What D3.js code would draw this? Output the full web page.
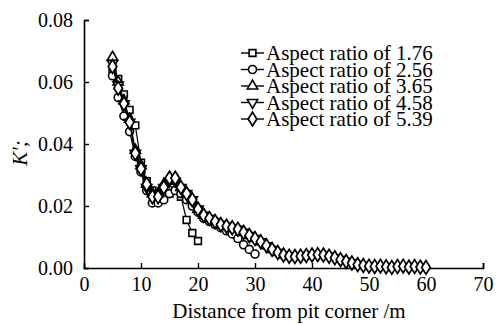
<!DOCTYPE html>
<html><head><meta charset="utf-8">
<script src="https://cdn.jsdelivr.net/npm/d3@7"></script>
<style>body{margin:0;background:#fff}svg{display:block}svg text{font-family:"Liberation Serif","Times New Roman",Times,"DejaVu Serif",serif !important}</style>
</head><body><svg id="c" width="497" height="325"></svg>
<script>
const seriesNames = ["Aspect ratio of 1.76","Aspect ratio of 2.56","Aspect ratio of 3.65","Aspect ratio of 4.58","Aspect ratio of 5.39"];
const symbolsUsed = ["square","circle","triangle","triangleDown","diamond"];
const xTicks = [0,10,20,30,40,50,60,70];
const yTicks = [0,0.02,0.04,0.06,0.08];

const x176 = [5,6,7,8,9,10,11,12,13,14,15,16,17,18,19,20];
const y176 = [0.063,0.061,0.056,0.051,0.046,0.034,0.028,0.025,0.024,0.024,0.024,0.025,0.023,0.0155,0.0113,0.0087];

const x256 = [5,6,7,8,9,10,11,12,13,14,15,16,17,18,19,20,21,22,23,24,25,26,27,28,29,30];
const y256 = [0.062,0.055,0.049,0.044,0.036,0.031,0.025,0.021,0.021,0.022,0.024,0.025,0.024,0.022,0.020,0.018,0.016,0.015,0.014,0.013,0.012,0.011,0.0095,0.0075,0.006,0.0045];

const x365 = [5,6,7,8,9,10,11,12,13,14,15,16,17,18,19,20,21,22,23,24,25,26,27,28,29,30,31,32,33,34,35,36,37,38,39,40];
const y365 = [0.068,0.060,0.054,0.048,0.038,0.033,0.027,0.024,0.024,0.027,0.029,0.028,0.026,0.024,0.022,0.019,0.017,0.016,0.015,0.014,0.0135,0.013,0.0125,0.0115,0.0105,0.0095,0.0085,0.0072,0.006,0.005,0.0042,0.0038,0.0037,0.0038,0.004,0.0042];

const x458 = [5,6,7,8,9,10,11,12,13,14,15,16,17,18,19,20,21,22,23,24,25,26,27,28,29,30,31,32,33,34,35,36,37,38,39,40,41,42,43,44,45,46,47,48,49,50];
const y458 = [0.066,0.059,0.053,0.047,0.037,0.032,0.026,0.023,0.023,0.026,0.028,0.028,0.026,0.024,0.022,0.019,0.017,0.016,0.015,0.014,0.0135,0.013,0.0125,0.0115,0.0105,0.0095,0.0085,0.0072,0.006,0.005,0.0042,0.0038,0.0037,0.0038,0.004,0.0042,0.0043,0.0042,0.0038,0.0033,0.0027,0.0021,0.0016,0.0011,0.0008,0.0006];

const x539 = [5,6,7,8,9,10,11,12,13,14,15,16,17,18,19,20,21,22,23,24,25,26,27,28,29,30,31,32,33,34,35,36,37,38,39,40,41,42,43,44,45,46,47,48,49,50,51,52,53,54,55,56,57,58,59,60];
const y539 = [0.065,0.058,0.053,0.047,0.037,0.032,0.027,0.023,0.023,0.026,0.029,0.029,0.026,0.024,0.022,0.019,0.017,0.016,0.015,0.014,0.0135,0.013,0.0125,0.0115,0.0105,0.0095,0.0085,0.0072,0.006,0.005,0.0042,0.0038,0.0037,0.0038,0.004,0.0042,0.0043,0.0042,0.0038,0.0033,0.0027,0.0021,0.0016,0.0011,0.0008,0.0006,0.0005,0.0006,0.0004,0.0002,0.0005,0.0006,0.0003,0.0005,0.0003,0.0002];

const seriesX = [x176,x256,x365,x458,x539];
const seriesY = [y176,y256,y365,y458,y539];

const svg = d3.select("#c");
const FONT = '"Liberation Serif","Times New Roman",Times,"DejaVu Serif",serif';
const m = {l:84, r:483, t:20, b:268};
const x = d3.scaleLinear().domain([0,70]).range([m.l,m.r]);
const y = d3.scaleLinear().domain([0,0.08]).range([m.b,m.t]);

const symMap = {square:d3.symbolSquare,circle:d3.symbolCircle,triangle:d3.symbolTriangle,triangleDown:d3.symbolTriangle,diamond:d3.symbolDiamond};
const sizes = {square:46,circle:50,triangle:46,triangleDown:46,diamond:54};
function marker(g, s, cx, cy){
  const p = d3.symbol().type(symMap[s]).size(sizes[s]);
  g.append("path").attr("d",p()).attr("transform",`translate(${cx},${cy})`+(s==="triangleDown"?" rotate(180)":"")+(s==="diamond"?" scale(1.1,1)":""))
   .attr("fill","#fff").attr("stroke","#000").attr("stroke-width",1.6);
}

// axes
const xa = svg.append("g").attr("transform",`translate(0,${m.b})`)
  .call(d3.axisBottom(x).tickValues(xTicks).tickSize(-5).tickFormat(d3.format("d")).tickPadding(9));
const ya = svg.append("g").attr("transform",`translate(${m.l},0)`)
  .call(d3.axisLeft(y).tickValues(yTicks).tickSize(-5).tickFormat(d3.format(".2f")).tickPadding(11));
[xa,ya].forEach(a=>{
  a.attr("font-family",FONT);
  a.select(".domain").attr("stroke","#000").attr("stroke-width",1.6);
  a.selectAll(".tick line").attr("stroke","#000").attr("stroke-width",1.4);
  a.selectAll(".tick text").attr("font-size",20).attr("fill","#000").attr("font-family",FONT);
});
xa.selectAll(".tick text").attr("dy","0.71em");

// series
seriesX.forEach((xs,i)=>{
  const pts = xs.map((v,j)=>[v,seriesY[i][j]]);
  const g = svg.append("g");
  g.append("path").datum(pts).attr("fill","none").attr("stroke","#000").attr("stroke-width",1.2)
    .attr("d",d3.line().x(d=>x(d[0])).y(d=>y(d[1])));
  pts.forEach(d=>marker(g,symbolsUsed[i],x(d[0]),y(d[1])));
});

// legend
const lg = svg.append("g");
seriesNames.forEach((n,i)=>{
  const ly = 53 + i*16.5;
  lg.append("line").attr("x1",241).attr("x2",264).attr("y1",ly).attr("y2",ly).attr("stroke","#000").attr("stroke-width",1.4);
  marker(lg,symbolsUsed[i],252.5,ly);
  lg.append("text").attr("x",266).attr("y",ly).attr("dy","0.35em").attr("font-size",21).attr("font-family",FONT).text(n);
});

// labels
svg.append("text").attr("x",289).attr("y",318).attr("text-anchor","middle").attr("font-size",21).attr("font-family",FONT).text("Distance from pit corner /m");
svg.append("text").attr("transform","translate(27,153) rotate(-90)").attr("text-anchor","middle").attr("font-size",21).attr("font-style","italic").attr("font-family",FONT).text("K′;");
</script></body></html>
